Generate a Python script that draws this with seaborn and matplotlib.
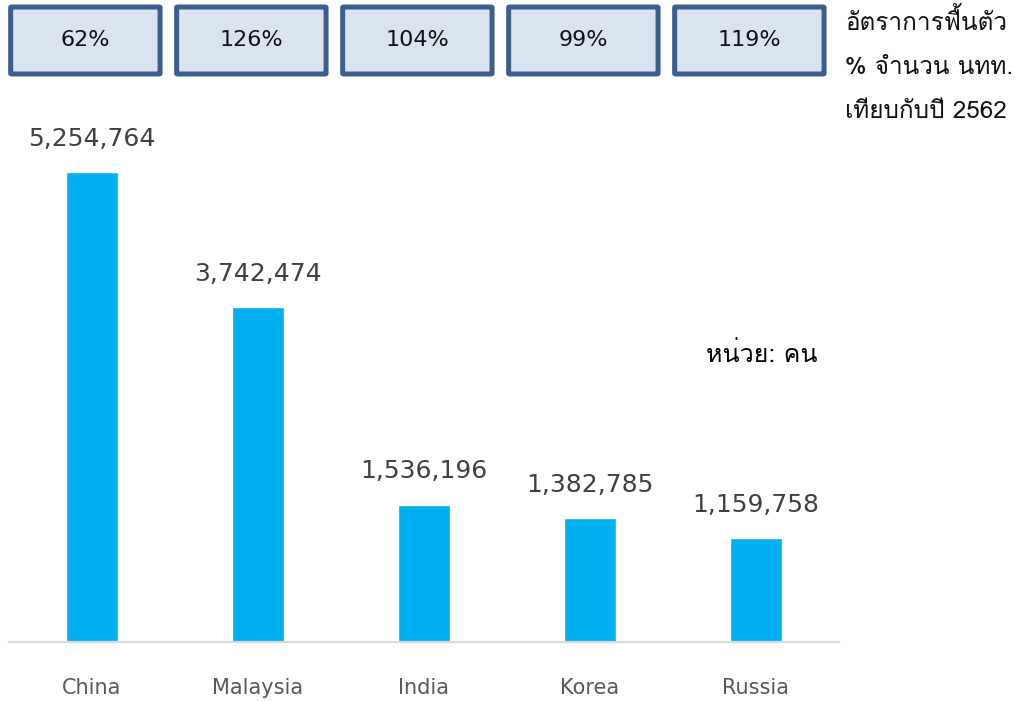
import matplotlib
matplotlib.use("Agg")
import matplotlib.pyplot as plt
from matplotlib import font_manager
from matplotlib.ft2font import FT2Font
from matplotlib.patches import FancyBboxPatch
import matplotlib.transforms as mtransforms
import seaborn as sns
import pandas as pd

# Inbound arrivals by market, with recovery rate vs. 2019 (B.E. 2562)
countries = ["China", "Malaysia", "India", "Korea", "Russia"]
arrivals = [5254764, 3742474, 1536196, 1382785, 1159758]
recovery = ["62%", "126%", "104%", "99%", "119%"]
legend_lines = ["อัตราการฟื้นตัว", "% จำนวน นทท.", "เทียบกับปี 2562"]
unit_label = "หน่วย: คน"

sns.set_theme(style="white")


def find_thai_font():
    for entry in font_manager.fontManager.ttflist:
        try:
            cmap = FT2Font(entry.fname).get_charmap()
        except Exception:
            continue
        if 0x0E01 in cmap and 0x0E35 in cmap:
            return entry.name
    return None


thai = find_thai_font()
families = [f for f in [thai, "DejaVu Sans"] if f]
plt.rcParams["font.family"] = families

fig = plt.figure(figsize=(10.24, 7.01), dpi=100)
ax = fig.add_axes([9 / 1024, 59 / 701, 830 / 1024, 536.7 / 701])

df = pd.DataFrame({"country": countries, "arrivals": arrivals})
sns.barplot(data=df, x="country", y="arrivals", color="#00B0F0",
            saturation=1, width=0.31, ax=ax)
ax.set_ylim(0, 6.0e6)
ax.set_xlim(-0.5, len(countries) - 0.5)

for i, v in enumerate(arrivals):
    ax.annotate(f"{v:,}", (i, v), xytext=(0, 24), textcoords="offset points",
                ha="center", va="center", fontsize=18, color="#404040",
                family=["DejaVu Sans"])

ax.set_xlabel("")
ax.set_ylabel("")
ax.set_yticks([])
ax.tick_params(axis="x", length=0, pad=26)
for lbl in ax.get_xticklabels():
    lbl.set_fontsize(15)
    lbl.set_color("#595959")
    lbl.set_family(["DejaVu Sans"])
for s in ["top", "left", "right"]:
    ax.spines[s].set_visible(False)
ax.spines["bottom"].set_color("#d9d9d9")
ax.spines["bottom"].set_linewidth(1.6)

# Recovery-rate boxes above each bar
trans = mtransforms.blended_transform_factory(ax.transData, fig.transFigure)
bw = 0.90
y0, y1 = 1 - 74 / 701, 1 - 7 / 701
for i, r in enumerate(recovery):
    box = FancyBboxPatch((i - 0.04 - bw / 2, y0), bw, y1 - y0,
                         boxstyle="round,pad=0,rounding_size=0.01",
                         transform=trans, facecolor="#DAE3F0",
                         edgecolor="#3B5E8C", linewidth=3.6,
                         clip_on=False, mutation_aspect=0.1)
    fig.add_artist(box)
    t = fig.text(0, (y0 + y1) / 2, r, transform=trans, ha="center",
                 va="center", fontsize=16, color="#111111",
                 family=["DejaVu Sans"])
    t.set_x(i - 0.04)

for k, line in enumerate(legend_lines):
    fig.text(845 / 1024, 1 - (22 + 45 * k) / 701, line, ha="left",
             va="center", fontsize=17.5, color="#111111")

fig.text(818 / 1024, 1 - 355 / 701, unit_label, ha="right", va="center",
         fontsize=18, color="#000000")

fig.savefig("out.png", dpi=100)
